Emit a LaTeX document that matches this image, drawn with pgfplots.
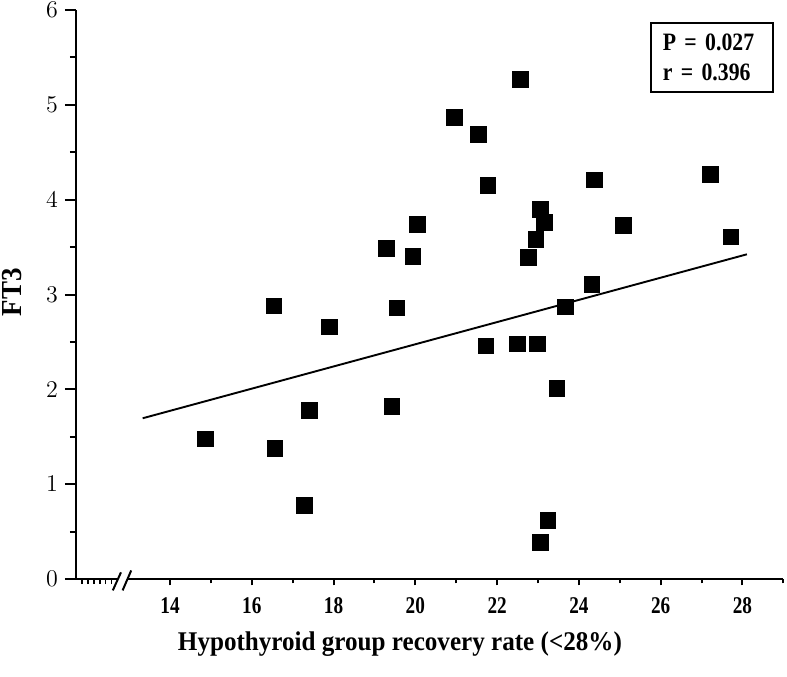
\documentclass[border=0pt]{standalone}
\usepackage{pgfplots}
\pgfplotsset{compat=1.18}
\usepackage{pgfplotstable}
\usepackage{fontspec}
\setmainfont{Liberation Serif}
\newfontfamily\ticksfont[FakeStretch=0.80]{Liberation Serif}
\newfontfamily\boxfont[FakeStretch=0.87,WordSpace=0.8]{Liberation Serif}
\newfontfamily\labelfont[FakeStretch=0.93]{Liberation Serif}

% recovery rate (%) vs FT3
\pgfplotstableread{
x      y
14.86  1.48
16.54  2.88
16.56  1.38
17.28  0.78
17.40  1.78
17.90  2.66
19.29  3.49
19.42  1.82
19.55  2.86
19.94  3.40
20.05  3.74
20.95  4.87
21.54  4.69
21.72  2.46
21.77  4.15
22.49  2.48
22.57  5.27
22.76  3.39
22.95  3.58
22.98  2.48
23.05  3.90
23.05  0.39
23.15  3.76
23.24  0.62
23.46  2.01
23.67  2.87
24.32  3.11
24.38  4.21
25.09  3.73
27.21  4.27
27.72  3.61
}\ftdata

% fitted regression line
\pgfplotstableread{
x      y
13.33  1.695
28.11  3.424
}\fitline

\begin{document}
\begin{tikzpicture}
\useasboundingbox (-38pt,-48.5pt) rectangle (355.5pt,289.5pt);
\pgfplotsset{frame/.style={
  scale only axis, width=353.65pt, height=284.5pt,
  xmin=11.70, xmax=29, ymin=0, ymax=6, clip=false}}

% x axis with a scale break near the origin
\begin{axis}[frame,
  axis y line=none, axis x line=bottom,
  x axis line style={draw=none},
  xtick={14,16,...,28}, minor xtick={15,17,...,29},
  extra x ticks={11.845,11.99,12.135,12.28,12.425,12.57},
  extra x tick labels={},
  extra x tick style={major tick length=2.6pt, tick style={line width=0.8pt}},
  tick align=outside, major tick length=3.2pt, minor tick length=2.2pt,
  tick style={black, line width=1pt},
  /pgf/number format/assume math mode=true,
  xticklabel style={font=\fontsize{12}{12}\ticksfont\bfseries, yshift=-2.5pt},
]
\draw[line width=1pt] (axis cs:11.70,0) -- (axis cs:12.70,0);
\draw[line width=1pt] (axis cs:12.95,0) -- (axis cs:29,0);
\draw[line width=1pt] (axis cs:12.60,-0.12) -- (axis cs:12.80,0.07);
\draw[line width=1pt] (axis cs:12.84,-0.12) -- (axis cs:13.05,0.09);
\end{axis}

% y axis, data and fit
\begin{axis}[frame,
  axis x line=none, axis y line=left,
  y axis line style={-, line width=1pt},
  ytick={0,1,...,6}, minor ytick={0.5,1.5,...,5.5},
  tick align=outside, major tick length=5.5pt, minor tick length=3pt,
  tick style={black, line width=1pt},
  yticklabel style={font=\fontsize{12.5}{12.5}\selectfont},
]
\addplot[only marks, mark=square*, mark size=3.9pt,
  mark options={fill=black, draw=black, line width=0.3pt}] table {\ftdata};
\addplot[black, line width=0.95pt] table {\fitline};

\node[draw, line width=1pt, inner xsep=6pt, text width=49pt,
  minimum height=34.2pt, align=left,
  font=\fontsize{12.5}{15}\boxfont\bfseries]
  at (rel axis cs:0.899,0.9165) {P = 0.027\\r = 0.396};

\node[rotate=90, font=\fontsize{14.5}{14.5}\labelfont\bfseries]
  at ([xshift=-32pt]rel axis cs:0,0.504) {FT3};

\node[anchor=base, font=\fontsize{13.5}{13.5}\labelfont\bfseries]
  at ([yshift=-35.5pt]rel axis cs:0.458,0) {Hypothyroid group recovery rate (<28\%)};
\end{axis}
\end{tikzpicture}
\end{document}
